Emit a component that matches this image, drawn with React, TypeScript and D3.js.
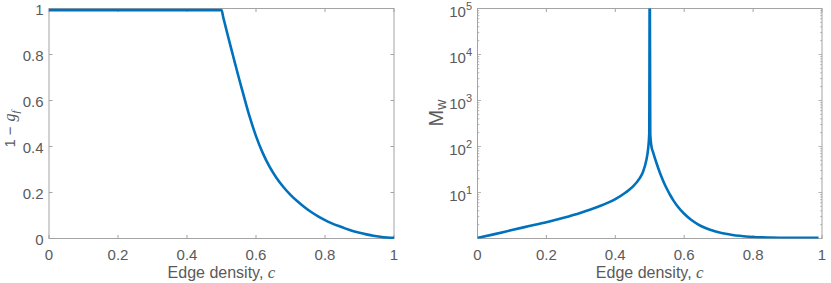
import React, { useEffect, useRef } from 'react';
import * as d3 from 'd3';

// left panel: 1 - g_f against edge density
const densityLeft = [0, 0.1, 0.2, 0.3, 0.4, 0.5, 0.505, 0.51, 0.52, 0.53, 0.54, 0.55, 0.56, 0.58, 0.6, 0.62, 0.64, 0.66, 0.68, 0.7, 0.72, 0.74, 0.76, 0.78, 0.8, 0.82, 0.84, 0.86, 0.88, 0.9, 0.92, 0.94, 0.96, 0.98, 1];
const oneMinusGf = [0.993, 0.993, 0.993, 0.993, 0.993, 0.993, 0.962, 0.932, 0.873, 0.815, 0.757, 0.7, 0.645, 0.537, 0.445, 0.37, 0.31, 0.262, 0.223, 0.19, 0.162, 0.137, 0.115, 0.096, 0.08, 0.066, 0.054, 0.043, 0.033, 0.025, 0.018, 0.012, 0.0075, 0.0045, 0.003];

// right panel: M_w (log scale) against edge density
const densityRight = [0, 0.05, 0.1, 0.15, 0.2, 0.25, 0.3, 0.35, 0.4, 0.43, 0.45, 0.47, 0.48, 0.49, 0.495, 0.4985, 0.5, 0.5015, 0.505, 0.51, 0.52, 0.53, 0.54, 0.55, 0.56, 0.57, 0.58, 0.6, 0.62, 0.64, 0.66, 0.68, 0.7, 0.72, 0.74, 0.76, 0.8, 0.85, 0.9, 0.99];
const mwValues = [1.03, 1.245, 1.53, 1.86, 2.26, 2.82, 3.63, 4.9, 7.16, 10, 13.2, 20, 27.5, 50, 85, 190, 1e6, 186, 100, 74, 42.7, 26.2, 17.2, 11.9, 8.6, 6.5, 5.1, 3.45, 2.56, 2.04, 1.71, 1.51, 1.36, 1.265, 1.196, 1.145, 1.08, 1.05, 1.04, 1.04];

const xTicks = [0, 0.2, 0.4, 0.6, 0.8, 1];
const xTickLabels = ['0', '0.2', '0.4', '0.6', '0.8', '1'];
const yTicksLeft = [0, 0.2, 0.4, 0.6, 0.8, 1];
const yTickLabelsLeft = ['0', '0.2', '0.4', '0.6', '0.8', '1'];
const logExponents = [1, 2, 3, 4, 5];

const App = () => {
    const ref = useRef<SVGSVGElement>(null);

    useEffect(() => {
        const svg = d3.select(ref.current);
        svg.selectAll('*').remove();

        const font = '"Liberation Sans", Arial, sans-serif';
        const serif = '"Liberation Serif", serif';
        const axisColor = '#a3a3a3';
        const textColor = '#5a5a5a';
        const lineColor = '#0072BD';
        const tickLen = 3.5;
        const top = 8.5;
        const bottom = 238.5;

        const drawFrame = (g, x, y0, y1) => {
            const [xl, xr] = x.range();
            g.append('rect')
                .attr('x', xl).attr('y', y1)
                .attr('width', xr - xl).attr('height', y0 - y1)
                .attr('fill', 'none').attr('stroke', axisColor).attr('stroke-width', 1);
            // x ticks on bottom and top, pointing inward
            xTicks.forEach((t, i) => {
                const px = x(t);
                g.append('line').attr('x1', px).attr('x2', px).attr('y1', y0).attr('y2', y0 - tickLen)
                    .attr('stroke', axisColor);
                g.append('line').attr('x1', px).attr('x2', px).attr('y1', y1).attr('y2', y1 + tickLen)
                    .attr('stroke', axisColor);
                g.append('text').attr('x', px).attr('y', y0 + 21)
                    .attr('text-anchor', 'middle')
                    .attr('font-family', font)
                    .attr('font-size', 15).attr('fill', textColor)
                    .text(xTickLabels[i]);
            });
            // x label
            const lab = g.append('text').attr('x', (xl + xr) / 2).attr('y', y0 + 39)
                .attr('text-anchor', 'middle')
                .attr('font-family', font)
                .attr('font-size', 16).attr('fill', textColor);
            lab.append('tspan').text('Edge density, ');
            lab.append('tspan').attr('font-family', serif).attr('font-style', 'italic')
                .attr('font-size', 17).text('c');
        };

        // ---------- left panel ----------
        const xL = d3.scaleLinear().domain([0, 1]).range([49, 394]);
        const yL = d3.scaleLinear().domain([0, 1]).range([bottom, top]);
        const gL = svg.append('g');
        drawFrame(gL, xL, bottom, top);

        yTicksLeft.forEach((t, i) => {
            const py = yL(t);
            gL.append('line').attr('x1', xL(0)).attr('x2', xL(0) + tickLen).attr('y1', py).attr('y2', py)
                .attr('stroke', axisColor);
            gL.append('line').attr('x1', xL(1)).attr('x2', xL(1) - tickLen).attr('y1', py).attr('y2', py)
                .attr('stroke', axisColor);
            gL.append('text').attr('x', 43.5).attr('y', py + 6.5)
                .attr('text-anchor', 'end')
                .attr('font-family', font)
                .attr('font-size', 15).attr('fill', textColor)
                .text(yTickLabelsLeft[i]);
        });

        const yLabL = gL.append('text')
            .attr('transform', `translate(14.5, 129) rotate(-90)`)
            .attr('text-anchor', 'middle')
            .attr('font-family', font)
            .attr('font-size', 15).attr('fill', textColor);
        yLabL.append('tspan').text('1');
        yLabL.append('tspan').attr('dx', 4).text('\u2212');
        yLabL.append('tspan').attr('dx', 5).attr('font-family', serif).attr('font-style', 'italic')
            .attr('font-size', 16).text('g');
        yLabL.append('tspan').attr('font-family', serif).attr('font-style', 'italic')
            .attr('font-size', 11).attr('dy', 4).text('f');

        const leftData = densityLeft.map((c, i) => [c, oneMinusGf[i]]);
        gL.append('path')
            .datum(leftData)
            .attr('d', d3.line().curve(d3.curveMonotoneX).x(d => xL(d[0])).y(d => yL(d[1])))
            .attr('fill', 'none').attr('stroke', lineColor)
            .attr('stroke-width', 2.6).attr('stroke-linejoin', 'round');

        // ---------- right panel ----------
        const xR = d3.scaleLinear().domain([0, 1]).range([477.5, 822]);
        const yR = d3.scaleLog().domain([1, 1e5]).range([bottom, top]);
        const gR = svg.append('g');
        drawFrame(gR, xR, bottom, top);

        // major and minor log ticks on both sides
        for (let e = 0; e < 5; e++) {
            for (let m = 1; m <= 9; m++) {
                const v = m * Math.pow(10, e);
                if (v <= 1) continue;
                const py = yR(v);
                const len = m === 1 ? tickLen : 1.8;
                gR.append('line').attr('x1', xR(0)).attr('x2', xR(0) + len).attr('y1', py).attr('y2', py)
                    .attr('stroke', axisColor).attr('stroke-width', 0.8);
                gR.append('line').attr('x1', xR(1)).attr('x2', xR(1) - len).attr('y1', py).attr('y2', py)
                    .attr('stroke', axisColor).attr('stroke-width', 0.8);
            }
        }
        logExponents.forEach(e => {
            const py = yR(Math.pow(10, e));
            const t = gR.append('text').attr('x', 472).attr('y', py + 8.5)
                .attr('text-anchor', 'end')
                .attr('font-family', font)
                .attr('font-size', 15).attr('fill', textColor);
            t.append('tspan').text('10');
            t.append('tspan').attr('font-size', 11).attr('dy', -7.5).text(String(e));
        });

        const yLabR = gR.append('text')
            .attr('transform', `translate(443, 113) rotate(-90)`)
            .attr('text-anchor', 'middle')
            .attr('font-family', font)
            .attr('font-size', 20).attr('fill', textColor);
        yLabR.append('tspan').text('M');
        yLabR.append('tspan').attr('font-size', 14).attr('dy', 3).text('w');

        svg.append('clipPath').attr('id', 'clipR')
            .append('rect').attr('x', xR(0)).attr('y', top).attr('width', xR(1) - xR(0)).attr('height', bottom - top);

        const rightData = densityRight.map((c, i) => [c, mwValues[i]]);
        gR.append('path')
            .datum(rightData)
            .attr('clip-path', 'url(#clipR)')
            .attr('d', d3.line().curve(d3.curveMonotoneX).x(d => xR(d[0])).y(d => yR(d[1])))
            .attr('fill', 'none').attr('stroke', lineColor)
            .attr('stroke-width', 2.6).attr('stroke-linejoin', 'round');
    }, []);

    return (
        <svg ref={ref} width={831} height={283}
            style={{ position: 'absolute', left: 0, top: 0, background: '#fff' }} />
    );
};

export default App;
